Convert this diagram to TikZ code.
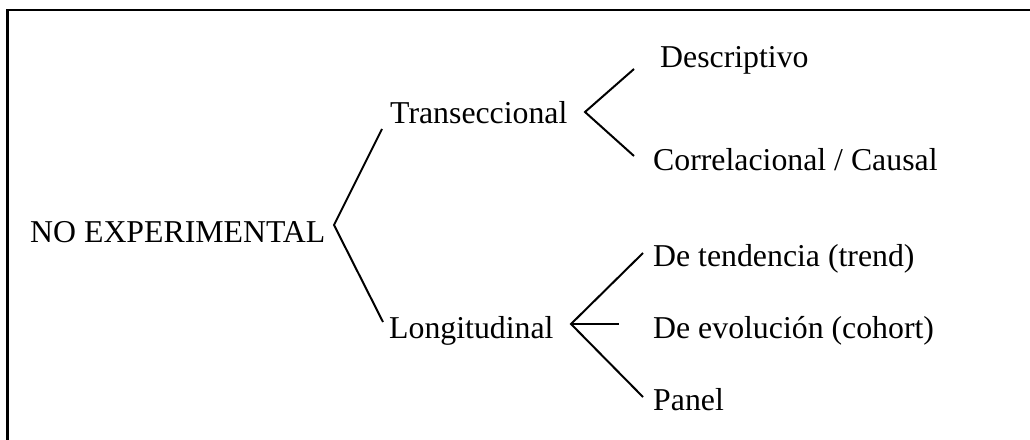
\documentclass[tikz,border=0pt]{standalone}
\usepackage{fontspec}
\setmainfont{Liberation Serif}
\begin{document}
\begin{tikzpicture}[x=1pt,y=-1pt,
  lbl/.style={anchor=base west,inner sep=0pt,font=\fontsize{31.8}{36}\selectfont},
  br/.style={line width=2pt,line cap=butt},
  frame/.style={line width=2.6pt}]
\useasboundingbox (0,0) rectangle (1030,439);
% frame (only top and left edges fall inside the picture)
\coordinate (fbl) at (7.5,440);
\coordinate (ftl) at (7.5,10);
\coordinate (ftr) at (1031,10);
\draw[frame] (fbl) -- (ftl) -- (ftr);
% labels
\node[lbl] (ne) at (30,242) {NO EXPERIMENTAL};
\node[lbl] (tr) at (390,123) {Transeccional};
\node[lbl] (lo) at (389,338) {Longitudinal};
\node[lbl] (de) at (660,67) {Descriptivo};
\node[lbl] (co) at (653,170) {Correlacional / Causal};
\node[lbl] (te) at (653,266) {De tendencia (trend)};
\node[lbl] (ev) at (653,338) {De evolución (cohort)};
\node[lbl] (pa) at (653,410) {Panel};
% bracket points
\coordinate (v0) at (334,225);
\coordinate (v0a) at (382,129);
\coordinate (v0b) at (383,322);
\coordinate (v1) at (585,112);
\coordinate (v1a) at (634,69);
\coordinate (v1b) at (634,156);
\coordinate (v2) at (571,324);
\coordinate (v2a) at (643,253);
\coordinate (v2b) at (619,324);
\coordinate (v2c) at (643,397);
% brackets
\draw[br] (v0a) -- (v0) -- (v0b);
\draw[br] (v1a) -- (v1) -- (v1b);
\draw[br] (v2a) -- (v2) -- (v2c);
\draw[br] (v2) -- (v2b);
\end{tikzpicture}
\end{document}
